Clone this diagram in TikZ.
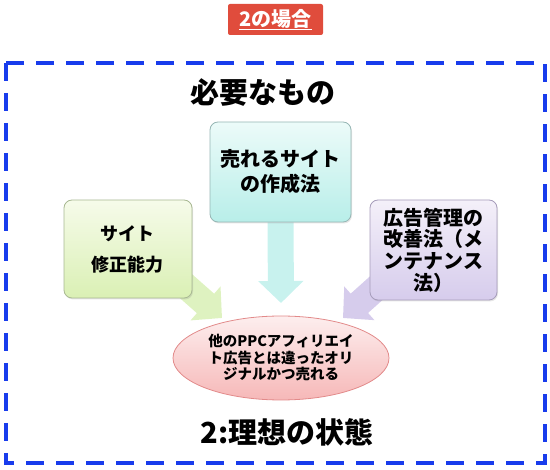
\documentclass[tikz,border=0pt]{standalone}
\usepackage{fontspec}
\setmainfont{Noto Sans CJK JP}
\usepackage{xcolor}
\usetikzlibrary{arrows.meta,positioning,calc,shapes.geometric,backgrounds,shadows}
\definecolor{titlered}{RGB}{224,76,60}
\definecolor{dashblue}{RGB}{24,60,236}
\definecolor{cyantop}{RGB}{236,251,249}
\definecolor{cyanbot}{RGB}{184,238,233}
\definecolor{cyanline}{RGB}{150,182,180}
\definecolor{greentop}{RGB}{246,251,234}
\definecolor{greenbot}{RGB}{218,240,180}
\definecolor{greenline}{RGB}{168,184,146}
\definecolor{lilactop}{RGB}{244,240,249}
\definecolor{lilacbot}{RGB}{214,204,236}
\definecolor{lilacline}{RGB}{166,156,186}
\definecolor{pinktop}{RGB}{253,238,238}
\definecolor{pinkbot}{RGB}{246,184,184}
\definecolor{pinkline}{RGB}{226,138,138}
\definecolor{cyanarr}{RGB}{200,242,238}
\definecolor{greenarr}{RGB}{222,242,192}
\definecolor{lilacarr}{RGB}{214,204,236}
\tikzset{
  titlebox/.style={fill=titlered, rounded corners=2pt, text=white, inner sep=0pt,
                   minimum width=95pt, minimum height=31pt,
                   font=\fontsize{20}{22}\selectfont\bfseries},
  dashbox/.style={draw=dashblue, line width=4pt, dash pattern=on 18pt off 12pt},
  heading/.style={font=\fontsize{29}{32}\selectfont\bfseries, inner sep=0pt},
  needbox/.style={draw=#1line, top color=#1top, bottom color=#1bot,
                  rounded corners=8pt, line width=0.8pt, inner sep=0pt, align=center,
                  drop shadow={shadow xshift=1pt, shadow yshift=-1.5pt, opacity=0.2}},
  goal/.style={ellipse, draw=pinkline, top color=pinktop, bottom color=pinkbot,
               line width=0.8pt, inner sep=0pt, align=center,
               minimum width=216pt, minimum height=84pt,
               font=\fontsize{14.5}{16.5}\selectfont\bfseries},
  blockarr/.style={draw=#1, line width=26pt, -{Triangle[length=22pt,width=44pt]}},
}

\begin{document}
\begin{tikzpicture}[x=1pt,y=-1pt]
  \useasboundingbox (0,0) rectangle (550,470);
  \node[titlebox] (ttl) at (275.5,19.5) {\underline{2の場合}};
  \draw[dashbox] (6,63) rectangle (545,463);
  \node[heading] (need) at (263,93) {必要なもの};

  \node[needbox=cyan, minimum width=141pt, minimum height=100pt,
        font=\fontsize{20}{25}\selectfont\bfseries] (site) at (280.5,172) {売れるサイト\\の作成法};
  \node[needbox=green, minimum width=128pt, minimum height=98pt,
        font=\fontsize{18}{31}\selectfont\bfseries] (fix) at (128,249) {サイト\\修正能力};
  \node[needbox=lilac, minimum width=127pt, minimum height=100pt,
        font=\fontsize{20}{21.7}\selectfont\bfseries] (ads) at (433.5,250)
        {広告管理の\\改善法（メ\\ンテナンス\\法）};

  \node[goal] (aim) at (281,358) {他のPPCアフィリエイ\\ト広告とは違ったオリ\\ジナルかつ売れる};
  \node[heading] (state) at (287,432) {2:理想の状態};

  \coordinate (ctip) at (281,303);
  \coordinate (ltip) at (222,318);
  \coordinate (rtip) at (343,318);
  \begin{pgfonlayer}{background}
    \draw[blockarr=cyanarr] (site.south) -- (ctip);
    \draw[blockarr=greenarr] ($(fix.south east)+(-22,-26)$) -- (ltip);
    \draw[blockarr=lilacarr] ($(ads.south west)+(22,-26)$) -- (rtip);
  \end{pgfonlayer}
\end{tikzpicture}
\end{document}
